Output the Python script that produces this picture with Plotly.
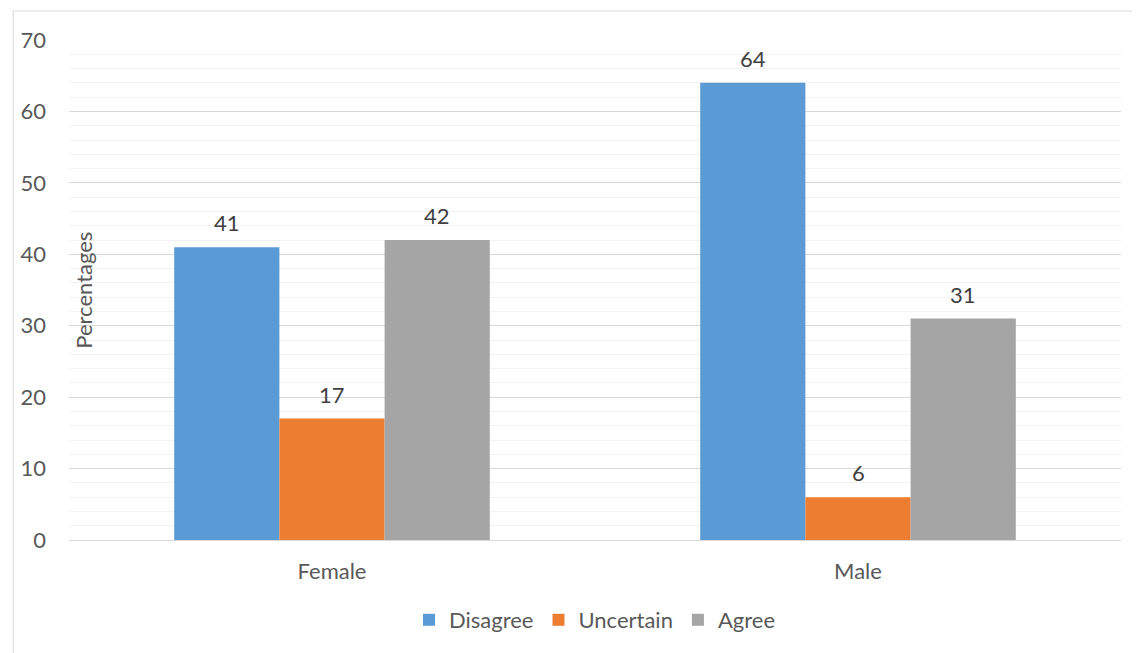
import plotly.graph_objects as go

categories = ["Female", "Male"]
series_names = ["Disagree", "Uncertain", "Agree"]
disagree = [41, 64]
uncertain = [17, 6]
agree = [42, 31]
y_ticks = [0, 10, 20, 30, 40, 50, 60, 70]

values = [disagree, uncertain, agree]
colors = ["#5B9BD5", "#ED7D31", "#A5A5A5"]
FONT = "Lato, Carlito, Calibri, sans-serif"
FS = 22

fig = go.Figure()
xpos = list(range(len(categories)))
bar_w = 0.2
for j, (name, vals, col) in enumerate(zip(series_names, values, colors)):
    off = (j - 1) * bar_w
    fig.add_trace(go.Bar(
        x=[x + off for x in xpos], y=vals, name=name, width=bar_w,
        marker=dict(color=col, line=dict(width=0)),
    ))
    for x, v in zip(xpos, vals):
        fig.add_annotation(x=x + off, y=v, text=str(v), showarrow=False,
                           yanchor="bottom", yshift=9,
                           font=dict(size=FS, color="#404040", family=FONT))

fig.add_annotation(xref="paper", yref="paper", x=0.013, y=0.5, text="Percentages",
                   textangle=-90, showarrow=False, xanchor="center", yanchor="middle",
                   font=dict(size=FS, color="#595959", family=FONT))

fig.add_shape(type="rect", xref="paper", yref="paper",
              x0=-0.053, y0=-0.3, x1=1.2, y1=1.058,
              line=dict(color="#D9D9D9", width=1), layer="below")

fig.update_layout(
    width=1132, height=645,
    margin=dict(l=58, r=19, t=32, b=112),
    paper_bgcolor="white", plot_bgcolor="white",
    barmode="overlay",
    font=dict(family=FONT, size=FS, color="#595959"),
    showlegend=True,
    legend=dict(orientation="h", x=0.5, xanchor="center", y=-0.16, yanchor="middle",
                font=dict(size=FS, color="#595959", family=FONT), itemwidth=30),
    xaxis=dict(tickvals=xpos, ticktext=categories, range=[-0.5, 1.5],
               showgrid=False, zeroline=False, showline=False,
               ticklabelstandoff=16,
               tickfont=dict(size=FS, color="#595959")),
    yaxis=dict(range=[0, 70], tickvals=y_ticks, showgrid=True, gridcolor="#D9D9D9",
               gridwidth=1, zeroline=True, zerolinecolor="#D9D9D9", zerolinewidth=1,
               showline=False, ticklabelstandoff=22,
               tickfont=dict(size=FS, color="#595959"),
               minor=dict(dtick=2, showgrid=True, gridcolor="#F2F2F2", gridwidth=1)),
)

fig.write_html("out.html")
